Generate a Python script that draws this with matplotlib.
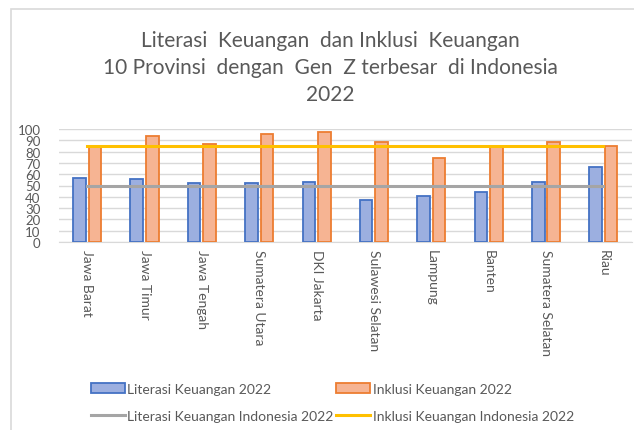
import matplotlib.pyplot as plt
import numpy as np
from matplotlib.patches import Rectangle

plt.rcParams['font.family'] = ['Lato', 'DejaVu Sans']

# data
provinsi = ['Jawa Barat', 'Jawa Timur', 'Jawa Tengah', 'Sumatera Utara', 'DKI Jakarta',
            'Sulawesi Selatan', 'Lampung', 'Banten', 'Sumatera Selatan', 'Riau']
literasi = [56.4, 55.5, 51.9, 52.0, 52.8, 36.9, 41.0, 44.5, 52.8, 66.6]
inklusi = [85.3, 93.5, 86.4, 95.9, 97.0, 88.2, 74.6, 85.3, 88.2, 85.3]
literasi_nasional = 49.68
inklusi_nasional = 85.10

teks = '#595959'

fig = plt.figure(figsize=(6.34, 4.31), dpi=100)
fig.patches.append(Rectangle((11 / 634, -0.01), 1.0, 1 - 10 / 431 + 0.01,
                             transform=fig.transFigure, fill=False,
                             edgecolor='#d9d9d9', linewidth=1.2))

ax = fig.add_axes([58.5 / 634, 1 - 243 / 431, (632 - 58.5) / 634, 113 / 431])

x = np.arange(len(provinsi))
w = 0.22
b1 = ax.bar(x - 0.135, literasi, w, color='#9cafe0', edgecolor='#4472c4', linewidth=1.3,
            label='Literasi Keuangan 2022', zorder=3)
b2 = ax.bar(x + 0.135, inklusi, w, color='#f6b493', edgecolor='#ed7d31', linewidth=1.3,
            label='Inklusi Keuangan 2022', zorder=3)
l1, = ax.plot(x, [literasi_nasional] * len(x), color='#a5a5a5', linewidth=2.2,
              label='Literasi Keuangan Indonesia 2022', zorder=4)
l2, = ax.plot(x, [inklusi_nasional] * len(x), color='#ffc000', linewidth=2.2,
              label='Inklusi Keuangan Indonesia 2022', zorder=4)

ax.set_xlim(-0.5, len(x) - 0.5)
ax.set_ylim(0, 100)
ax.set_yticks(range(0, 101, 10))
ax.set_xticks(x)
ax.set_xticklabels(provinsi, rotation=270, ha='center', va='top')
ax.tick_params(axis='y', length=0, pad=13, labelsize=9.5, labelcolor=teks)
ax.tick_params(axis='x', length=0, pad=5, labelsize=10, labelcolor=teks)
ax.grid(axis='y', color='#d9d9d9', linewidth=1, zorder=0)
for s in ['top', 'right', 'left']:
    ax.spines[s].set_visible(False)
ax.spines['bottom'].set_color('#d9d9d9')

fig.text(0.521, 0.928, 'Literasi  Keuangan  dan Inklusi  Keuangan\n'
         '10 Provinsi  dengan  Gen  Z terbesar  di Indonesia\n2022',
         ha='center', va='top', fontsize=15, color=teks, linespacing=1.45)

fig.legend([b1, l1, b2, l2],
           [b1.get_label(), l1.get_label(), b2.get_label(), l2.get_label()],
           loc='lower left', bbox_to_anchor=(78 / 634, -0.01), ncol=2,
           frameon=False, fontsize=10, labelcolor=teks, handlelength=2.45,
           handletextpad=0.2, columnspacing=0.2, labelspacing=1.1)

plt.savefig('out.png', dpi=100)
